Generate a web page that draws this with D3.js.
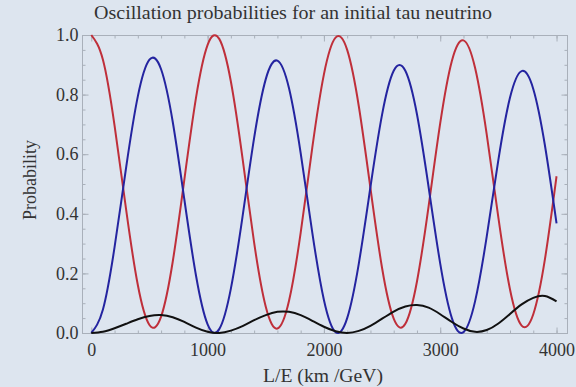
<!doctype html>
<html lang="en">
  <head>
    <meta charset="utf-8">
    <script src="https://d3js.org/d3.v7.min.js"></script>
    <title>Oscillation probabilities</title>
    <style>
      body { margin: 0; background: #dde5ef; }
      text { font-family: "Liberation Serif", "DejaVu Serif", serif; fill: #333; }
      .frame { fill: none; stroke: #a9b0ba; stroke-width: 1px; }
      .curve { fill: none; stroke-width: 2px; }
    </style>
  </head>
  <body>
    <svg width="576" height="387"></svg>

    <script>
      // L/E samples (km/GeV) and the three probabilities
      const lOverE = d3.range(0, 4001, 100);

      // P(tau -> tau)
      const pTauTau = [1.000, 0.917, 0.696, 0.412, 0.161, 0.027, 0.055, 0.239, 0.515, 0.789,
                       0.967, 0.987, 0.844, 0.587, 0.303, 0.088, 0.015, 0.108, 0.336, 0.622,
                       0.868, 0.991, 0.950, 0.761, 0.486, 0.218, 0.048, 0.031, 0.173, 0.425,
                       0.704, 0.913, 0.982, 0.889, 0.666, 0.387, 0.146, 0.025, 0.063, 0.247,
                       0.526];
      // P(tau -> mu)
      const pTauMu = [0.000, 0.079, 0.288, 0.557, 0.794, 0.917, 0.885, 0.709, 0.448, 0.193,
                      0.029, 0.013, 0.149, 0.390, 0.655, 0.852, 0.914, 0.821, 0.604, 0.337,
                      0.111, 0.003, 0.050, 0.233, 0.490, 0.733, 0.880, 0.880, 0.734, 0.490,
                      0.233, 0.050, 0.003, 0.107, 0.324, 0.581, 0.790, 0.879, 0.819, 0.630,
                      0.368];
      // P(tau -> e)
      const pTauE = [0.000, 0.004, 0.016, 0.031, 0.046, 0.057, 0.060, 0.053, 0.037, 0.018,
                     0.004, 0.000, 0.008, 0.023, 0.043, 0.060, 0.071, 0.071, 0.060, 0.041,
                     0.021, 0.006, 0.000, 0.007, 0.024, 0.048, 0.072, 0.089, 0.094, 0.085,
                     0.063, 0.037, 0.015, 0.004, 0.010, 0.032, 0.064, 0.096, 0.118, 0.124,
                     0.106];

      const xTicks = [0, 1000, 2000, 3000, 4000];
      const yTicks = [0, 0.2, 0.4, 0.6, 0.8, 1.0];

      const series = [
        { name: "tau", values: pTauTau, color: "#bf2f3a" },
        { name: "mu", values: pTauMu, color: "#2424a0" },
        { name: "e", values: pTauE, color: "#111111" }
      ];

      const plotLeft = 82, plotRight = 567, plotTop = 35, plotBottom = 333;

      const svg = d3.select("svg");

      const x = d3.scaleLinear().domain([-80, 4090]).range([plotLeft, plotRight]);
      const y = d3.scaleLinear().domain([0, 1]).range([plotBottom, plotTop]);

      // frame
      svg.append("rect")
        .attr("class", "frame")
        .attr("x", plotLeft + 0.5)
        .attr("y", plotTop + 0.5)
        .attr("width", plotRight - plotLeft)
        .attr("height", plotBottom - plotTop);

      // ticks on all four sides, labels only bottom / left
      const xMinor = d3.range(0, 4001, 200);
      const yMinor = d3.range(0, 1.0001, 0.05);

      function bare(g) { g.select(".domain").remove(); }

      svg.append("g")
        .attr("transform", `translate(0,${plotBottom + 0.5})`)
        .call(d3.axisBottom(x).tickValues(xMinor).tickSize(-3).tickFormat(""))
        .call(bare);
      svg.append("g")
        .attr("transform", `translate(0,${plotBottom + 0.5})`)
        .call(d3.axisBottom(x).tickValues(xTicks).tickSize(-6).tickPadding(10).tickFormat(d3.format("d")))
        .call(bare)
        .call(g => g.selectAll("text").attr("font-size", 18).attr("fill", "#333"));
      svg.append("g")
        .attr("transform", `translate(0,${plotTop + 0.5})`)
        .call(d3.axisTop(x).tickValues(xMinor).tickSize(-3).tickFormat(""))
        .call(bare);
      svg.append("g")
        .attr("transform", `translate(0,${plotTop + 0.5})`)
        .call(d3.axisTop(x).tickValues(xTicks).tickSize(-6).tickFormat(""))
        .call(bare);

      svg.append("g")
        .attr("transform", `translate(${plotLeft + 0.5},0)`)
        .call(d3.axisLeft(y).tickValues(yMinor).tickSize(-3).tickFormat(""))
        .call(bare);
      svg.append("g")
        .attr("transform", `translate(${plotLeft + 0.5},0)`)
        .call(d3.axisLeft(y).tickValues(yTicks).tickSize(-6).tickPadding(4).tickFormat(d3.format(".1f")))
        .call(bare)
        .call(g => g.selectAll("text").attr("font-size", 18).attr("fill", "#333"));
      svg.append("g")
        .attr("transform", `translate(${plotRight + 0.5},0)`)
        .call(d3.axisRight(y).tickValues(yMinor).tickSize(-3).tickFormat(""))
        .call(bare);
      svg.append("g")
        .attr("transform", `translate(${plotRight + 0.5},0)`)
        .call(d3.axisRight(y).tickValues(yTicks).tickSize(-6).tickFormat(""))
        .call(bare);

      svg.selectAll("g").attr("font-family", null);
      svg.selectAll(".tick line").attr("stroke", "#a9b0ba");

      // curves
      const line = d3.line()
        .x((d, i) => x(lOverE[i]))
        .y(d => y(d))
        .curve(d3.curveNatural);

      svg.append("g")
        .selectAll("path")
        .data(series)
        .enter().append("path")
        .attr("class", "curve")
        .attr("stroke", d => d.color)
        .attr("d", d => line(d.values));

      // title and axis labels
      svg.append("text")
        .attr("x", 293)
        .attr("y", 19)
        .attr("text-anchor", "middle")
        .attr("font-size", 18)
        .attr("textLength", 398)
        .attr("lengthAdjust", "spacingAndGlyphs")
        .text("Oscillation probabilities for an initial tau neutrino");

      svg.append("text")
        .attr("x", 323)
        .attr("y", 382)
        .attr("text-anchor", "middle")
        .attr("font-size", 18)
        .attr("textLength", 120)
        .attr("lengthAdjust", "spacingAndGlyphs")
        .text("L/E (km /GeV)");

      svg.append("text")
        .attr("transform", "translate(36,180) rotate(-90)")
        .attr("text-anchor", "middle")
        .attr("font-size", 18)
        .text("Probability");
    </script>
  </body>
</html>
